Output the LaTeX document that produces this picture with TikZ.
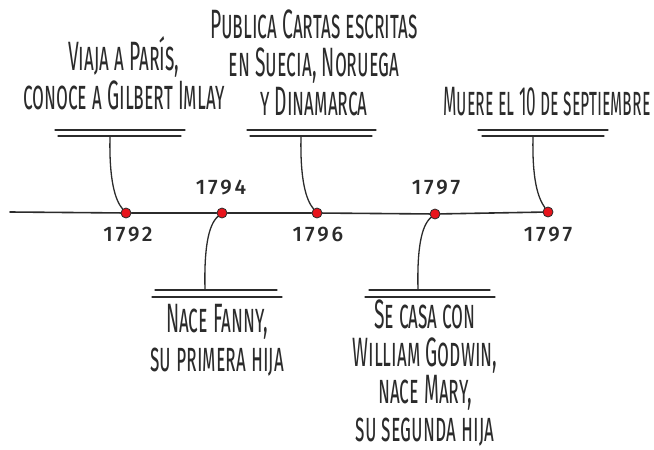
\documentclass[tikz,border=0pt]{standalone}
\usepackage{fontspec}
\newfontfamily\hand[FakeStretch=0.47,Letters=SmallCaps]{Fira Sans}
\newfontfamily\handnarrow[FakeStretch=0.42,Letters=SmallCaps]{Fira Sans}
\newfontfamily\yearfont[LetterSpace=14]{Fira Sans Medium}
\definecolor{ink}{HTML}{2B2B2B}
\definecolor{dotred}{HTML}{E8141C}
\begin{document}
\begin{tikzpicture}[x=1pt,y=-1pt,
  ln/.style={draw=ink,line width=1.6pt,line cap=round},
  thin/.style={draw=ink,line width=1.3pt,line cap=round},
  evdot/.style={circle,fill=dotred,draw=ink,line width=0.8pt,inner sep=0pt,minimum size=10pt},
  yr/.style={font=\yearfont\fontsize{21}{21}\selectfont,text=ink,inner sep=0pt},
  lbl/.style={font=\hand\fontsize{41}{38.5}\selectfont,text=ink,align=center,inner sep=0pt}]
\useasboundingbox (0,0) rectangle (654,450);
% dots
\node[evdot] (d1) at (126,213) {};
\node[evdot] (d2) at (222,213) {};
\node[evdot] (d3) at (317,213) {};
\node[evdot] (d4) at (435,214) {};
\node[evdot] (d5) at (548,212) {};
\coordinate (start) at (10,212);
\draw[ln] (start) -- (d1) -- (d2) -- (d3) -- (d4) -- (d5);
% years
\node[yr] (y1) at (128,235) {1792};
\node[yr] (y2) at (221,188) {1794};
\node[yr] (y3) at (318,235) {1796};
\node[yr] (y4) at (436,188) {1797};
\node[yr] (y5) at (548,235) {1797};
% top bars
\draw[thin] (55,130) -- (185,130);
\draw[thin] (58,136) -- (181,136);
\coordinate (b1) at (110,136);
\draw[thin] (247,130) -- (376,130);
\draw[thin] (250,136) -- (372,136);
\coordinate (b3) at (301,136);
\draw[thin] (478,130) -- (608,130);
\draw[thin] (482,136) -- (604,136);
\coordinate (b5) at (533,136);
% bottom bars
\draw[thin] (155,290) -- (277,290);
\draw[thin] (152,297) -- (282,297);
\coordinate (b2) at (205,290);
\draw[thin] (369,290) -- (490,290);
\draw[thin] (365,297) -- (495,297);
\coordinate (b4) at (418,290);
% connectors
\draw[thin] (b1) .. controls (109,180) and (115,200) .. (d1);
\draw[thin] (b3) .. controls (300,180) and (306,200) .. (d3);
\draw[thin] (b5) .. controls (532,180) and (538,198) .. (d5);
\draw[thin] (b2) .. controls (204,250) and (208,225) .. (d2);
\draw[thin] (b4) .. controls (417,250) and (421,226) .. (d4);
% labels
\node[lbl,anchor=base] (t1) at (124,109) {Viaja a París,\\conoce a Gilbert Imlay};
\node[lbl,anchor=base] (t3) at (314,115) {Publica Cartas escritas\\en Suecia, Noruega\\y Dinamarca};
\node[lbl,anchor=base,font=\handnarrow\fontsize{41}{38.5}\selectfont] (t5) at (547,115) {Muere el 10 de septiembre};
\node[lbl,anchor=base] (t2) at (217,371) {Nace Fanny,\\su primera hija};
\node[lbl,anchor=base,text depth=0pt,font=\hand\fontsize{41}{37.5}\selectfont] (t4) at (425,441) {Se casa con\\William Godwin,\\nace Mary,\\su segunda hija};
\end{tikzpicture}
\end{document}
